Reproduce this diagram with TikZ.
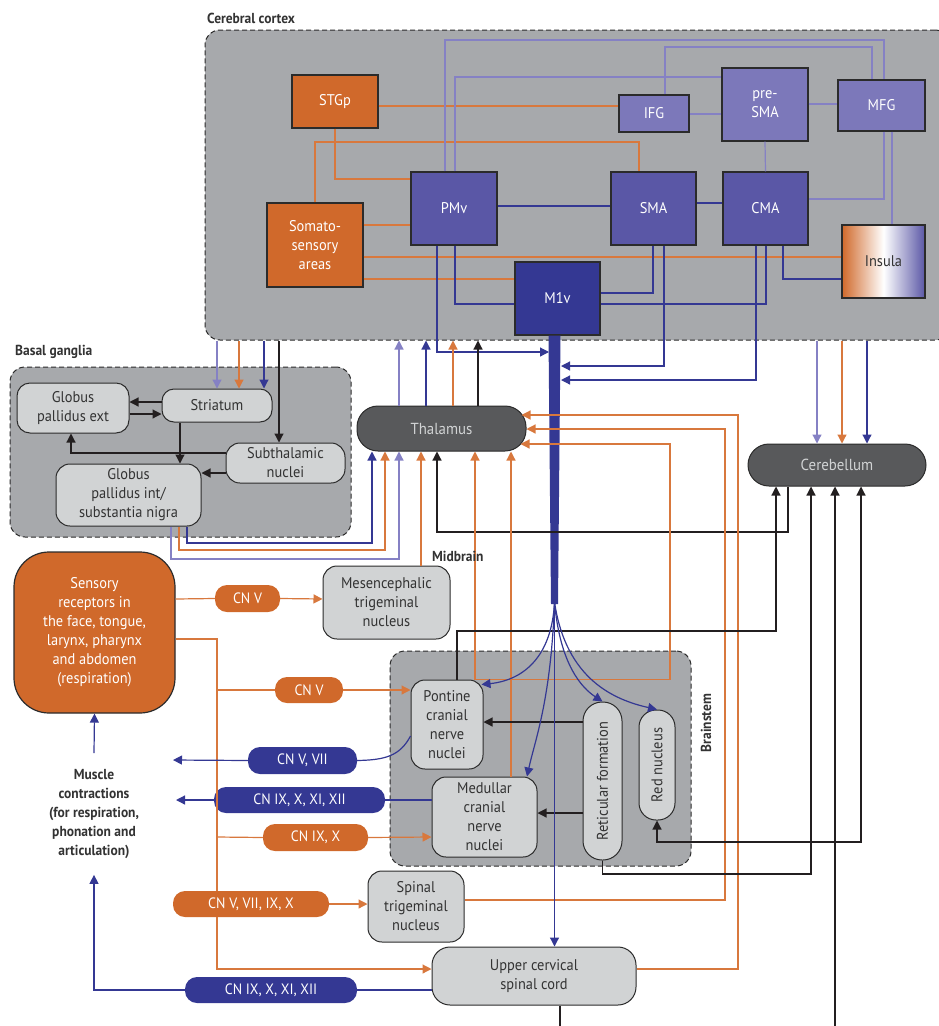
\documentclass[tikz,border=0pt]{standalone}
\usepackage{fontspec}
\setmainfont{PT Sans}[FakeStretch=0.93]
\usepackage{tikz}
\usetikzlibrary{arrows.meta,calc}
\definecolor{ctxgray}{HTML}{A7A9AC}
\definecolor{nucgray}{HTML}{D1D3D4}
\definecolor{hubgray}{HTML}{58595B}
\definecolor{edge}{HTML}{2B2B2B}
\definecolor{txt}{HTML}{333333}
\definecolor{orng}{HTML}{D0692B}
\definecolor{orl}{HTML}{D8783D}
\definecolor{pmid}{HTML}{5A57A6}
\definecolor{plite}{HTML}{7C78BA}
\definecolor{lpl}{HTML}{8581C4}
\definecolor{dblu}{HTML}{343893}
\definecolor{blk}{HTML}{231F20}
\newcommand{\fsz}[1]{\fontsize{#1}{19}\selectfont}
\tikzset{
  region/.style={draw=edge, dash pattern=on 5pt off 3pt, fill=ctxgray, rounded corners=15pt, line width=1pt, inner sep=0pt},
  area/.style={draw=edge, line width=1.2pt, inner sep=0pt, text=white, align=center, font=\fsz{15.5}},
  nuc/.style={draw=edge, fill=nucgray, line width=1pt, rounded corners=14pt, inner sep=0pt, text=txt, align=center, font=\fsz{15.5}},
  hub/.style={draw=edge, fill=hubgray, line width=1pt, rounded corners=21pt, inner sep=0pt, text=nucgray, font=\fsz{16}},
  pill/.style={rounded corners=12pt, inner sep=0pt, text=white, font=\fsz{15}},
  ttl/.style={text=txt, font=\fsz{14.5}\bfseries, inner sep=0pt},
  ln/.style={line width=1.2pt},
  arr/.style={-{Triangle[length=9pt,width=9pt]}},
  arrs/.style={{Triangle[length=9pt,width=9pt]}-{Triangle[length=9pt,width=9pt]}},
}

\begin{document}
\begin{tikzpicture}[x=1pt,y=-1pt]
  \useasboundingbox (0,0) rectangle (939,1026);
  \node[region,minimum width=745pt,minimum height=310pt] (cortex) at (577.5,185) {};
  \node[ttl,anchor=west] (cortexlbl) at (207,18) {Cerebral cortex};
  \node[region,minimum width=341pt,minimum height=170pt] (bg) at (180.5,452) {};
  \node[ttl,anchor=west] (bglbl) at (15,352) {Basal ganglia};
  \node[region,minimum width=301pt,minimum height=215pt] (bstem) at (540.5,758.5) {};
  \node[ttl,rotate=90] (bstemlbl) at (706,723) {Brainstem};

  \node[area,fill=orng,minimum width=86pt,minimum height=53pt] (stgp) at (335,101.5) {STGp};
  \node[area,fill=plite,minimum width=70pt,minimum height=37pt] (ifg) at (654,113.5) {IFG};
  \node[area,fill=plite,minimum width=86pt,minimum height=73pt] (presma) at (765,104.5) {pre-\\SMA};
  \node[area,fill=plite,minimum width=87pt,minimum height=51pt] (mfg) at (881.5,105.5) {MFG};
  \node[area,fill=pmid,minimum width=86pt,minimum height=73pt] (pmv) at (454,208.5) {PMv};
  \node[area,fill=pmid,minimum width=85pt,minimum height=73pt] (sma) at (653.5,208.5) {SMA};
  \node[area,fill=pmid,minimum width=85pt,minimum height=73pt] (cma) at (765.5,208.5) {CMA};
  \node[area,fill=orng,minimum width=96pt,minimum height=84pt] (soma) at (315,245) {Somato-\\sensory\\areas};
  \node[area,text=txt,left color=orng,right color=pmid,middle color=white,minimum width=83pt,minimum height=73pt] (insula) at (883.5,261.5) {Insula};
  \node[area,fill=dblu,minimum width=85pt,minimum height=73pt] (m1v) at (557.5,298.5) {M1v};

  \draw[ln,orl] (stgp.east |- 0,106) -- (ifg.west |- 0,106);
  \draw[ln,lpl,line width=1.8pt] (ifg.east |- 0,114) -- (presma.west |- 0,114);
  \draw[ln,lpl] (presma.east |- 0,104) -- (mfg.west |- 0,104);
  \draw[ln,orl] (stgp.south) |- (pmv.west |- 0,179);
  \draw[ln,orl] (soma.north) |- (639,142) -- (sma.north -| 639,0);
  \draw[ln,lpl] (pmv.north -| 445,0) |- (884,40) -- (mfg.north -| 884,0);
  \draw[ln,lpl] (mfg.south -| 884,0) |- (cma.east |- 0,199);
  \draw[ln,lpl] (ifg.north -| 665,0) |- (872,47) -- (mfg.north -| 872,0);
  \draw[ln,lpl] (pmv.north -| 455,0) |- (presma.west |- 0,77);
  \draw[ln,lpl] (presma.south) -- (cma.north);
  \draw[ln,lpl] (mfg.south -| 892,0) -- (insula.north -| 892,0);
  \draw[ln,dblu] (pmv.east |- 0,206) -- (sma.west |- 0,206);
  \draw[ln,dblu] (sma.east |- 0,203) -- (cma.west |- 0,203);
  \draw[ln,orl] (soma.east |- 0,225) -- (pmv.west |- 0,225);
  \draw[ln,orl] (soma.east |- 0,257) -- (insula.west |- 0,257);
  \draw[ln,orl] (soma.east |- 0,279) -- (m1v.west |- 0,279);
  \draw[ln,dblu] (pmv.south -| 455,0) |- (m1v.west |- 0,304);
  \draw[ln,dblu] (sma.south -| 653,0) |- (m1v.east |- 0,293);
  \draw[ln,dblu] (cma.south -| 766,0) |- (m1v.east |- 0,304);
  \draw[ln,dblu] (cma.south -| 783,0) |- (insula.west |- 0,279);

  \fill[dblu] ($(m1v.south)+(-9,0)$) -- ($(m1v.south)+(3,0)$) -- (558,604) -- (551,604) -- cycle;
  \coordinate (fan) at (554.5,602);
  \coordinate (st1) at (549,352);
  \coordinate (st2) at (561,366);
  \coordinate (st3) at (561,380);
  \draw[ln,dblu,arr] (pmv.south -| 437,0) |- (st1);
  \draw[ln,dblu,arr] (sma.south -| 664,0) |- (st2);
  \draw[ln,dblu,arr] (cma.south -| 756,0) |- (st3);

  \node[hub,minimum width=169pt,minimum height=45pt] (thal) at (441.5,428.5) {Thalamus};
  \node[hub,minimum width=178pt,minimum height=42pt] (cereb) at (837,465) {Cerebellum};

  \node[nuc,rounded corners=13pt,minimum width=112pt,minimum height=50pt] (gpe) at (73,408) {Globus\\pallidus ext};
  \node[nuc,rounded corners=12pt,minimum width=110pt,minimum height=33pt] (str) at (217,405.5) {Striatum};
  \node[nuc,minimum width=119pt,minimum height=40pt] (stn) at (285.5,463) {Subthalamic\\nuclei};
  \node[nuc,minimum width=145pt,minimum height=62pt] (gpi) at (128.5,495) {Globus\\pallidus int/\\substantia nigra};

  \node[nuc,minimum width=127pt,minimum height=73pt] (mes) at (386.5,602.5) {Mesencephalic\\trigeminal\\nucleus};
  \node[nuc,minimum width=72pt,minimum height=89pt] (pons) at (447,724.5) {Pontine\\cranial\\nerve\\nuclei};
  \node[nuc,minimum width=105pt,minimum height=80pt] (med) at (484.5,817) {Medullar\\cranial\\nerve\\nuclei};
  \node[nuc,rounded corners=19pt,minimum width=39pt,minimum height=158pt] (ret) at (602.5,781) {};
  \node[rotate=90,text=txt,font=\fsz{15.5}] (retlbl) at (ret) {Reticular formation};
  \node[nuc,rounded corners=17pt,minimum width=36pt,minimum height=110pt] (red) at (657,765) {};
  \node[rotate=90,text=txt,font=\fsz{15.5}] (redlbl) at (red) {Red nucleus};
  \node[nuc,minimum width=96pt,minimum height=71pt] (spt) at (416,906.5) {Spinal\\trigeminal\\nucleus};
  \node[nuc,rounded corners=18pt,minimum width=204pt,minimum height=58pt] (ucsc) at (534,976) {Upper cervical\\spinal cord};

  \node[area,fill=orng,rounded corners=35pt,minimum width=161pt,minimum height=161pt] (sens) at (94.5,632.5) {Sensory\\receptors in\\the face, tongue,\\larynx, pharynx\\and abdomen\\(respiration)};
  \node[ttl,align=center,inner ysep=16pt] (muscle) at (94,814) {Muscle\\contractions\\(for respiration,\\phonation and\\articulation)};

  \node[pill,fill=orng,minimum width=65pt,minimum height=27pt] (cnv1) at (247.5,598.5) {CN V};
  \node[pill,fill=orng,minimum width=68pt,minimum height=26pt] (cnv2) at (309,690) {CN V};
  \node[pill,fill=dblu,minimum width=109pt,minimum height=27pt] (cnv7) at (302.5,760.5) {CN V, VII};
  \node[pill,fill=dblu,minimum width=171pt,minimum height=26pt] (cn12a) at (299.5,800) {CN IX, X, XI, XII};
  \node[pill,fill=orng,minimum width=105pt,minimum height=27pt] (cn9) at (315.5,837.5) {CN IX, X};
  \node[pill,fill=orng,minimum width=156pt,minimum height=26pt] (cn5all) at (251,904) {CN V, VII, IX, X};
  \node[pill,fill=dblu,minimum width=172pt,minimum height=26pt] (cn12b) at (271,990) {CN IX, X, XI, XII};

  \draw[ln,lpl,arr] (thal.north -| 399,0) -- (cortex.south -| 399,0);
  \draw[ln,dblu,arr] (thal.north -| 426,0) -- (cortex.south -| 426,0);
  \draw[ln,orl,arr] (thal.north -| 453,0) -- (cortex.south -| 453,0);
  \draw[ln,blk,arr] (thal.north -| 478,0) -- (cortex.south -| 478,0);
  \draw[ln,lpl,arr] (cortex.south -| 817,0) -- (cereb.north -| 817,0);
  \draw[ln,orl,arr] (cortex.south -| 842,0) -- (cereb.north -| 842,0);
  \draw[ln,dblu,arr] (cortex.south -| 867,0) -- (cereb.north -| 867,0);
  \draw[ln,lpl,arr] (cortex.south -| 217,0) -- (str.north -| 217,0);
  \draw[ln,orl,arr] (cortex.south -| 239,0) -- (str.north -| 239,0);
  \draw[ln,dblu,arr] (cortex.south -| 264,0) -- (str.north -| 264,0);
  \draw[ln,blk,arr] (cortex.south -| 279,0) -- (stn.north -| 279,0);

  \draw[ln,blk,arr] (str.west |- 0,402) -- (gpe.east |- 0,402);
  \draw[ln,blk,arr] (gpe.east |- 0,414) -- (str.west |- 0,414);
  \draw[ln,blk,arr] (str.south -| 180,0) -- (gpi.north -| 180,0);
  \draw[ln,blk,arr] (stn.west |- 0,453) -| (gpe.south -| 71,0);
  \draw[ln,blk,arr] (stn.west |- 0,473) -- (gpi.east |- 0,473);

  \draw[ln,dblu,arr] (gpi.south -| 187,0) -- (187,543) -| (thal.south -| 372,0);
  \draw[ln,orl,arr] (gpi.south -| 179,0) -- (179,550) -| (thal.south -| 385,0);
  \draw[ln,lpl,arr] (gpi.south -| 171,0) -- (171,559) -| (thal.south -| 399,0);
  \draw[ln,orl,arr] (mes.north -| 421,0) -- (thal.south -| 421,0);
  \draw[ln,blk,arr] (cereb.south -| 788,0) -- (788,532) -| (thal.south -| 437,0);
  \draw[ln,orl,arr] (pons.north -| 475,0) -- (thal.south -| 475,0);
  \draw[ln,orl,arr] (med.north -| 511,0) -- (thal.south -| 511,0);
  \draw[ln,orl,arr] (pons.north -| 475,0) -| (670,444) -- ($(thal.east |- 0,444)+(-6,0)$);
  \draw[ln,orl,arr] (spt.east |- 0,900) -| (725,429) -- (thal.east |- 0,429);
  \draw[ln,orl,arr] (ucsc.east |- 0,969) -| (738,415) -- ($(thal.east |- 0,415)+(-5,0)$);

  \coordinate (spine) at (835,1030);
  \coordinate (cord) at (560,1030);
  \draw[ln,blk,arr] (pons.north -| 457,0) |- (776,631) -- (cereb.south -| 776,0);
  \draw[ln,blk,arr] (ret.south) |- (811,874) -- (cereb.south -| 811,0);
  \draw[ln,blk,arr] (spine) -- (cereb.south -| 835,0);
  \draw[ln,blk,arrs] (red.south) |- (861,842) -- (cereb.south -| 861,0);
  \draw[ln,blk] (ucsc.south -| cord) -- (cord);
  \draw[ln,blk,arr] (ret.west |- 0,722) -- (pons.east |- 0,722);
  \draw[ln,blk,arr] (ret.west |- 0,813) -- (med.east |- 0,813);

  \draw[ln,dblu,arr] (fan) .. controls (552,655) and (525,680) .. ($(pons.north east)+(-2,5)$);
  \draw[ln,dblu,arr] (fan) .. controls (551,700) and (535,740) .. (med.north -| 527,0);
  \draw[ln,dblu,arr] (fan) -- (ucsc.north -| fan);
  \draw[ln,dblu,arr] (fan) .. controls (560,665) and (582,688) .. (ret.north);
  \draw[ln,dblu,arr] (fan) .. controls (566,680) and (615,700) .. (red.north);

  \coordinate (tr1) at (217,690);
  \coordinate (tr2) at (217,837);
  \coordinate (mo1) at (173,760);
  \coordinate (mo2) at (176,800);
  \draw[ln,orl] (sens.east |- 0,599) -- (cnv1.west);
  \draw[ln,orl,arr] (cnv1.east) -- (mes.west |- 0,599);
  \draw[ln,orl] (sens.east |- 0,639) -| (cn5all.north -| tr1);
  \draw[ln,orl,arr] (cn5all.south -| tr1) |- (ucsc.west |- 0,969);
  \draw[ln,orl] (tr1) -- (cnv2.west);
  \draw[ln,orl,arr] (cnv2.east) -- (pons.west |- 0,690);
  \draw[ln,orl] (tr2) -- (cn9.west);
  \draw[ln,orl,arr] (cn9.east) -- (med.west |- 0,837);
  \draw[ln,orl,arr] (cn5all.east) -- (spt.west |- 0,904);
  \draw[ln,dblu] (pons.west |- 0,736) .. controls (400,756) and (385,760) .. (cnv7.east);
  \draw[ln,dblu,arr] (cnv7.west) -- (mo1);
  \draw[ln,dblu] (med.west |- 0,800) -- (cn12a.east);
  \draw[ln,dblu,arr] (cn12a.west) -- (mo2);
  \draw[ln,dblu] (ucsc.west |- 0,990) -- (cn12b.east);
  \draw[ln,dblu,arr] (cn12b.west) -| (muscle.south);
  \draw[ln,dblu,arr] (muscle.north) -- (sens.south);

  \node[ttl,anchor=west] (midlbl) at (432,556) {Midbrain};
\end{tikzpicture}
\end{document}
